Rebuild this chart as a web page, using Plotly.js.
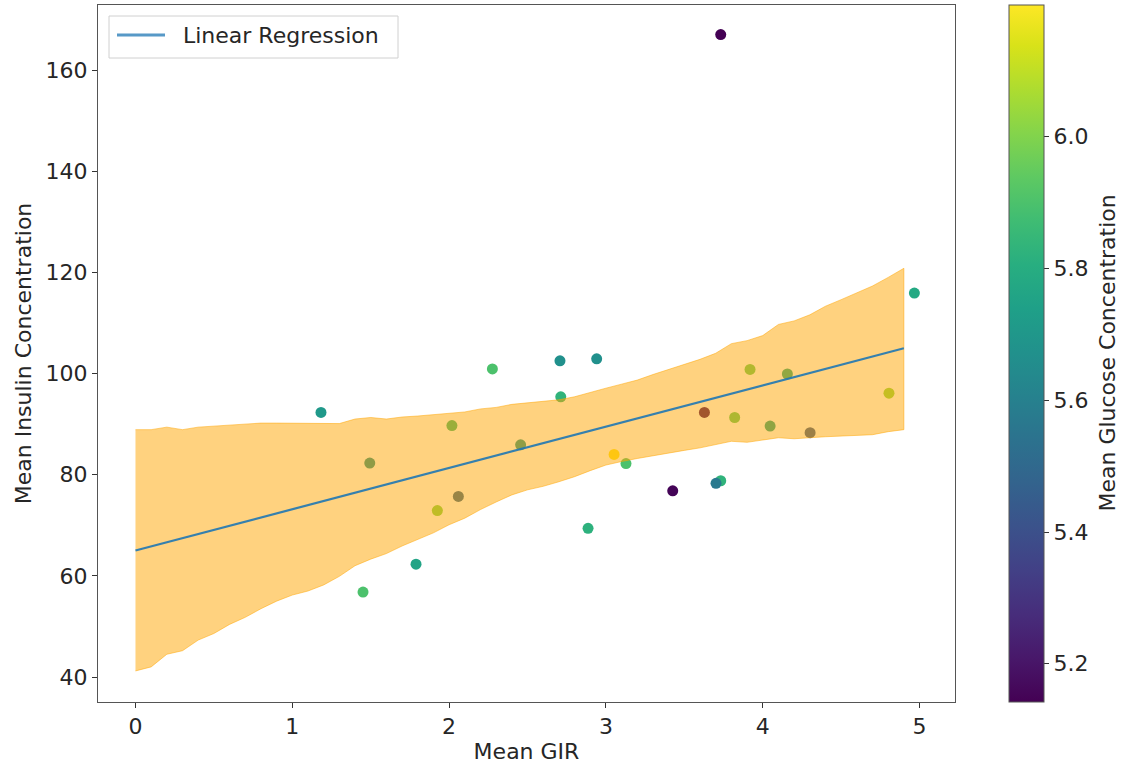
<!DOCTYPE html>
<html>
<head>
<meta charset="utf-8">
<script src="https://cdn.plot.ly/plotly-3.0.1.min.js"></script>
<style>html,body{margin:0;padding:0;background:#fff;}#chart{width:1124px;height:769px;}</style>
</head>
<body>
<div id="chart"></div>
<script>
// Scatter points: Mean GIR, Mean Insulin Concentration, Mean Glucose Concentration
const gir = [1.183, 2.276, 2.018, 1.494, 2.456, 2.059, 1.925, 1.789, 1.451, 4.967, 2.707, 2.941, 2.712, 3.919, 4.157, 4.805, 3.628, 3.821, 4.047, 4.302, 3.052, 3.128, 3.426, 3.732, 3.702, 2.886, 3.732];
const insulin = [92.3, 100.9, 89.7, 82.3, 85.9, 75.7, 72.9, 62.3, 56.8, 115.9, 102.5, 102.9, 95.4, 100.8, 99.9, 96.1, 92.3, 91.3, 89.6, 88.3, 84.0, 82.2, 76.8, 78.8, 78.3, 69.4, 167.0];
const glucose = [5.71, 5.90, 5.85, 5.67, 5.69, 5.48, 6.00, 5.76, 5.90, 5.78, 5.67, 5.67, 5.83, 5.95, 5.78, 6.02, 5.16, 5.94, 5.75, 5.43, 6.20, 5.90, 5.15, 5.83, 5.57, 5.82, 5.142];

// Confidence band of the regression
const bandX = [0.0,0.1,0.2,0.3,0.4,0.5,0.6,0.7,0.8,0.9,1.0,1.1,1.2,1.3,1.4,1.5,1.6,1.7,1.8,1.9,2.0,2.1,2.2,2.3,2.4,2.5,2.6,2.7,2.8,2.9,3.0,3.1,3.2,3.3,3.4,3.5,3.6,3.7,3.8,3.9,4.0,4.1,4.2,4.3,4.4,4.5,4.6,4.7,4.8,4.9];
const bandUpper = [88.9,88.9,89.4,88.9,89.4,89.6,89.9,90.0,90.2,90.2,90.2,90.2,90.1,90.1,91.0,91.3,91.0,91.4,91.6,91.9,92.1,92.4,93.0,93.3,93.9,94.2,94.4,94.8,95.4,96.3,97.1,97.9,98.7,99.8,100.8,101.8,102.8,104.0,105.9,106.5,107.5,109.7,110.4,111.6,113.3,114.6,116.0,117.3,119.0,120.8];
const bandLower = [41.2,42.0,44.5,45.2,47.3,48.6,50.4,51.8,53.5,55.0,56.2,57.0,58.2,59.9,62.0,63.3,64.4,65.9,67.2,68.5,70.1,71.4,73.1,74.6,76.0,77.0,77.7,78.6,79.6,80.8,81.9,82.6,83.2,83.8,84.3,84.8,85.3,85.9,86.6,86.4,86.8,87.3,87.1,87.3,87.5,87.7,87.8,87.9,88.5,88.9];

// Regression line
const lineX = [0, 4.9];
const lineY = [65.0, 105.0];

const xTicks = [0, 1, 2, 3, 4, 5];
const yTicks = [40, 60, 80, 100, 120, 140, 160];
const cbTicks = [5.2, 5.4, 5.6, 5.8, 6.0];
const legendLabel = 'Linear Regression';

const FONT = 'DejaVu Sans, Liberation Sans, sans-serif';
const TXT = '#262626';
const BLUE = '#1f77b4';

const scatter = {
  type: 'scatter', mode: 'markers', x: gir, y: insulin, showlegend: false, hoverinfo: 'x+y',
  marker: {
    size: 11, color: glucose, colorscale: 'Viridis', showscale: true,
    line: {width: 0},
    colorbar: {
      x: 1.063, xanchor: 'left', xpad: 0, y: 0.5, yanchor: 'middle', ypad: 0,
      len: 1, lenmode: 'fraction', thickness: 35,
      outlinewidth: 1, outlinecolor: '#555',
      tickvals: cbTicks, tickformat: '.1f', ticks: 'outside', ticklen: 5, tickcolor: '#333',
      tickfont: {family: FONT, size: 22, color: TXT}
    }
  }
};

const band = {
  type: 'scatter', mode: 'lines',
  x: bandX.concat(bandX.slice().reverse()),
  y: bandUpper.concat(bandLower.slice().reverse()),
  fill: 'toself', fillcolor: 'rgba(255,165,0,0.5)',
  line: {color: 'rgba(255,165,0,0.5)', width: 1},
  showlegend: false, hoverinfo: 'skip'
};

const reg = {
  type: 'scatter', mode: 'lines', x: lineX, y: lineY, name: legendLabel,
  line: {color: BLUE, width: 2.2}, opacity: 0.9, showlegend: false
};

const axisCommon = {
  showgrid: false, zeroline: false, showline: true, mirror: true,
  linecolor: '#555', linewidth: 1, ticks: 'outside', ticklen: 5, tickcolor: '#333',
  tickfont: {family: FONT, size: 22, color: TXT}
};

// legend box drawn in paper coordinates (plot area 857 x 697 px)
const px = v => (v - 98) / 857;
const py = v => 1 - (v - 5) / 697;

const layout = {
  width: 1124, height: 769,
  margin: {l: 98, r: 169, t: 5, b: 67},
  paper_bgcolor: '#fff', plot_bgcolor: '#fff',
  font: {family: FONT, color: TXT},
  showlegend: false,
  xaxis: Object.assign({}, axisCommon, {
    range: [-0.239, 5.226], tickvals: xTicks,
    title: {text: 'Mean GIR', font: {family: FONT, size: 22, color: TXT}, standoff: 5}
  }),
  yaxis: Object.assign({}, axisCommon, {
    range: [35.06, 172.85], tickvals: yTicks,
    title: {text: 'Mean Insulin Concentration', font: {family: FONT, size: 22, color: TXT}, standoff: 7}
  }),
  shapes: [
    {type: 'rect', xref: 'paper', yref: 'paper', x0: px(109), x1: px(398), y0: py(58), y1: py(16),
     line: {color: '#d0d0d0', width: 1}, fillcolor: 'rgba(255,255,255,0.8)', layer: 'above'},
    {type: 'line', xref: 'paper', yref: 'paper', x0: px(117), x1: px(165), y0: py(35), y1: py(35),
     line: {color: 'rgba(31,119,180,0.75)', width: 3}, layer: 'above'}
  ],
  annotations: [
    {text: legendLabel, xref: 'paper', yref: 'paper', x: px(181), y: py(36),
     xanchor: 'left', yanchor: 'middle', showarrow: false,
     font: {family: FONT, size: 22, color: TXT}},
    {text: 'Mean Glucose Concentration', xref: 'paper', yref: 'paper',
     x: 1.1774, y: 0.5, xanchor: 'center', yanchor: 'middle', textangle: -90,
     showarrow: false, font: {family: FONT, size: 22, color: TXT}}
  ]
};

Plotly.newPlot('chart', [scatter, band, reg], layout, {displayModeBar: false, staticPlot: true});
</script>
</body>
</html>
